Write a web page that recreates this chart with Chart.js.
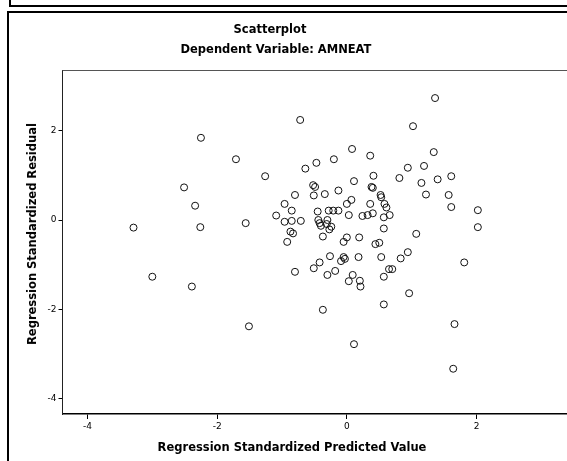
<!DOCTYPE html>
<html>
<head>
<meta charset="utf-8">
<title>Scatterplot</title>
<script src="https://cdn.jsdelivr.net/npm/chart.js@4.4.0/dist/chart.umd.min.js"></script>
<style>
  html, body { margin: 0; padding: 0; background: #fff; overflow: hidden; width: 567px; height: 461px; }
  #topbox { position: absolute; left: 9px; top: -20px; width: 640px; height: 23px; border: 2px solid #000; }
  #box { position: absolute; left: 7px; top: 11px; width: 640px; height: 520px; border: 2px solid #000; }
  #chart { position: absolute; left: 0; top: 0; }
  .t { position: absolute; font-family: "DejaVu Sans", sans-serif; font-weight: bold; font-size: 11.5px;
       color: #000; white-space: nowrap; transform: translate(-50%, -50%); }
  #ytitle { transform: translate(-50%, -50%) rotate(-90deg); }
</style>
</head>
<body>
<div id="topbox"></div>
<div id="box"></div>
<canvas id="chart" width="590" height="461"></canvas>
<div class="t" style="left:270px; top:29px;">Scatterplot</div>
<div class="t" style="left:276px; top:49px;">Dependent Variable: AMNEAT</div>
<div class="t" style="left:292px; top:447px;">Regression Standardized Predicted Value</div>
<div class="t" id="ytitle" style="left:32px; top:234px;">Regression Standardized Residual</div>
<script>
// values
var predicted = [
  -2.25, -2.51, -2.34, -3.29, -2.26, -3.00, -2.39, -1.71, -1.56, -1.51, -1.26, -1.09,
  -0.72, 0.08, 0.36, -0.20, -0.47, -0.64, 0.41, 0.11, -0.52, -0.49, 0.38, 0.40,
  -0.13, -0.34, -0.51, -0.80, 0.07, 0.00, 0.52, 0.53, 0.58, 0.61, 0.36, -0.96,
  -0.85, -0.45, -0.28, -0.21, -0.13, 0.03, 0.24, 0.32, 0.40, 0.57, 0.66,
  -0.96, -0.85, -0.71, -0.44, -0.42, -0.30, -0.31, -0.24, -0.27, -0.40, 0.57,
  -0.87, -0.83, -0.37, -0.05, 0.00, 0.19, -0.92, 0.44, 0.50,
  -0.26, -0.42, -0.51, -0.80, -0.30, -0.18, -0.09, -0.05, -0.03, 0.18, 0.53,
  0.09, 0.03, 0.20, 0.21, 0.57, 0.57, -0.37, 0.11,
  0.94, 0.83, 1.81, 0.65, 0.70, 0.96, 1.66, 1.64,
  1.36, 1.02, 1.34, 0.94, 1.19, 0.81, 1.40, 1.61, 1.15, 1.22, 1.57, 1.61,
  2.02, 2.02, 1.07
];
var residual = [
  1.84, 0.73, 0.32, -0.17, -0.16, -1.27, -1.49, 1.36, -0.07, -2.38, 0.98, 0.10,
  2.24, 1.59, 1.44, 1.36, 1.28, 1.15, 0.99, 0.87, 0.78, 0.74, 0.74, 0.72,
  0.66, 0.58, 0.55, 0.56, 0.45, 0.36, 0.56, 0.51, 0.36, 0.28, 0.36, 0.36,
  0.21, 0.19, 0.21, 0.21, 0.21, 0.11, 0.09, 0.11, 0.15, 0.06, 0.11,
  -0.04, -0.02, -0.02, 0.00, -0.07, 0.00, -0.09, -0.15, -0.21, -0.13, -0.19,
  -0.26, -0.30, -0.37, -0.49, -0.39, -0.39, -0.49, -0.54, -0.51,
  -0.81, -0.95, -1.08, -1.16, -1.23, -1.14, -0.92, -0.83, -0.87, -0.83, -0.83,
  -1.23, -1.37, -1.36, -1.49, -1.27, -1.89, -2.01, -2.78,
  -0.72, -0.86, -0.95, -1.10, -1.10, -1.64, -2.33, -3.33,
  2.73, 2.10, 1.52, 1.17, 1.21, 0.94, 0.91, 0.98, 0.83, 0.57, 0.56, 0.29,
  0.22, -0.16, -0.31
];
var xTicks = [-4, -2, 0, 2];
var yTicks = [-4, -2, 0, 2];

var points = predicted.map(function (v, i) { return { x: v, y: residual[i] }; });

// gray top edge of the plot frame
var topEdge = {
  id: 'topEdge',
  afterDraw: function (chart) {
    var a = chart.chartArea, c = chart.ctx;
    c.save();
    c.strokeStyle = '#555';
    c.lineWidth = 1;
    c.beginPath();
    c.moveTo(a.left, a.top + 0.5);
    c.lineTo(a.right, a.top + 0.5);
    c.stroke();
    c.restore();
  }
};

var tickFont = { family: 'DejaVu Sans', size: 9 };

var ctx = document.getElementById('chart').getContext('2d');
var scatter = new Chart(ctx, {
  type: 'scatter',
  data: {
    datasets: [{
      data: points,
      pointStyle: 'circle',
      pointRadius: 3.5,
      pointHoverRadius: 3.5,
      backgroundColor: 'rgba(0,0,0,0)',
      borderColor: '#111',
      borderWidth: 1
    }]
  },
  options: {
    responsive: false,
    animation: false,
    events: [],
    layout: { padding: { top: 70, left: 0, right: 0, bottom: 0 } },
    plugins: { legend: { display: false }, tooltip: { enabled: false }, title: { display: false } },
    scales: {
      x: {
        type: 'linear',
        min: -4.385,
        max: 3.68,
        afterBuildTicks: function (axis) { axis.ticks = xTicks.map(function (v) { return { value: v }; }); },
        afterFit: function (axis) { axis.height = 47; },
        grid: { drawOnChartArea: false, drawTicks: true, tickLength: 5, color: '#000' },
        border: { display: true, color: '#000', width: 1.5 },
        ticks: { color: '#000', font: tickFont, padding: 2, maxRotation: 0 }
      },
      y: {
        type: 'linear',
        min: -4.343,
        max: 3.358,
        afterBuildTicks: function (axis) { axis.ticks = yTicks.map(function (v) { return { value: v }; }); },
        afterFit: function (axis) { axis.width = 62.5; },
        grid: { drawOnChartArea: false, drawTicks: true, tickLength: 4, color: '#000' },
        border: { display: true, color: '#222', width: 1 },
        ticks: { color: '#000', font: tickFont, padding: 2 }
      }
    }
  },
  plugins: [topEdge]
});
</script>
</body>
</html>
